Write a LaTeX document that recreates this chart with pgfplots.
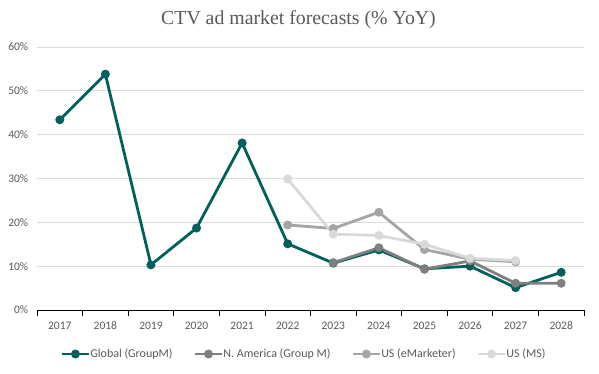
\documentclass[border=0pt]{standalone}
\usepackage{pgfplots}
\pgfplotsset{compat=1.18}
\usepackage{fontspec}
\setmainfont{Carlito}
\newfontfamily\titlefont{Liberation Serif}
\definecolor{cglobal}{RGB}{0,96,91}
\definecolor{cna}{RGB}{127,127,127}
\definecolor{cem}{RGB}{165,165,165}
\definecolor{cms}{RGB}{217,217,217}
\definecolor{ctext}{RGB}{89,89,89}
\definecolor{cgrid}{RGB}{217,217,217}
\begin{document}
\begin{tikzpicture}[x=1pt,y=1pt]
\begin{axis}[
  scale only axis,
  width=547pt, height=263pt,
  xmin=-0.5, xmax=11.5,
  ymin=0, ymax=60,
  xtick={0,...,11},
  xticklabels={2017,2018,2019,2020,2021,2022,2023,2024,2025,2026,2027,2028},
  major x tick style={draw=none},
  minor xtick={-0.5,0.5,...,11.5},
  minor x tick style={black, line width=0.75pt},
  minor tick length=6pt,
  tick align=outside,
  ytick={0,10,20,30,40,50,60},
  yticklabels={0\%,10\%,20\%,30\%,40\%,50\%,60\%},
  major y tick style={draw=none},
  ymajorgrids,
  grid style={cgrid, line width=0.75pt},
  axis x line*=bottom,
  axis y line*=left,
  y axis line style={draw=none},
  x axis line style={black, line width=0.75pt, -},
  tick label style={font=\fontsize{11.5}{13}\selectfont, text=ctext},
  /pgf/number format/assume math mode=true,
  xticklabel style={yshift=-4pt},
  yticklabel style={xshift=-1pt},
  clip=false,
  legend style={
    at={(axis description cs:0.5,0)}, anchor=center, yshift=-44pt, xshift=-6.5pt,
    draw=none, fill=none,
    font=\fontsize{12}{14}\selectfont, text=ctext,
    legend columns=4,
    /tikz/every even column/.append style={column sep=19pt},
    /tikz/every odd column/.append style={column sep=-2pt},
  },
  legend image code/.code={
    \draw[#1, mark=none] (0pt,0pt) -- (27pt,0pt);
    \draw[#1, only marks] plot coordinates {(13.5pt,0pt)};
  },
  every axis plot/.append style={line width=2.8pt, mark=*, mark size=3pt, mark options={solid}},
]
\addplot[cglobal] coordinates {
 (0,43.4) (1,53.8) (2,10.3) (3,18.7) (4,38.1) (5,15.1) (6,10.7) (7,13.7) (8,9.4) (9,10.0) (10,5.1) (11,8.6)};
\addlegendentry{Global (GroupM)}
\addplot[cna] coordinates {
 (6,10.8) (7,14.2) (8,9.3) (9,11.2) (10,6.1) (11,6.1)};
\addlegendentry{N. America (Group M)}
\addplot[cem] coordinates {
 (5,19.4) (6,18.6) (7,22.3) (8,13.8) (9,11.6) (10,11.0)};
\addlegendentry{US (eMarketer)}
\addplot[cms] coordinates {
 (5,29.9) (6,17.3) (7,17.0) (8,15.0) (9,11.8) (10,11.3)};
\addlegendentry{US (MS)}
\end{axis}
\node[font=\titlefont\fontsize{19.8}{23}\selectfont, text=ctext] at ([yshift=27pt,xshift=-12pt]current axis.north) {CTV ad market forecasts (\% YoY)};
\path ([xshift=-37pt,yshift=-63pt]current axis.south west) rectangle ++(599pt,373pt);
\end{tikzpicture}
\end{document}
